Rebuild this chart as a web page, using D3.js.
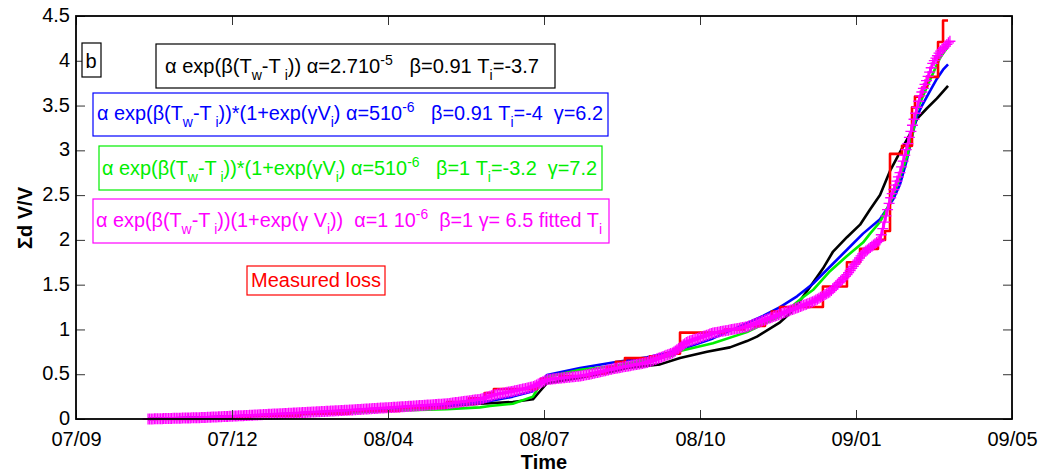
<!DOCTYPE html>
<html><head><meta charset="utf-8">
<script src="https://cdn.jsdelivr.net/npm/d3@7"></script>
<style>
body{margin:0;background:#fff}
svg{display:block}
text{font-family:"Liberation Sans",Arial,Helvetica,sans-serif}
</style>
</head><body>
<svg id="chart" width="1050" height="475"></svg>
<script>
// ---------- data ----------
// x: days since 2007-09-15 (datenum 733300); ticks every 100 days
const xTickDays = [0, 100, 200, 300, 400, 500, 600];
const xTickLabels = ["07/09", "07/12", "08/04", "08/07", "08/10", "09/01", "09/05"];
const yTicks = [0, 0.5, 1, 1.5, 2, 2.5, 3, 3.5, 4, 4.5];
const yTickLabels = ["0", "0.5", "1", "1.5", "2", "2.5", "3", "3.5", "4", "4.5"];

const blackDays = [46.2, 79.5, 111.5, 143.6, 175.6, 207.7, 237.8, 259, 280, 292.9, 297.4, 301.9, 323.1, 344.2, 353.2, 374.4, 387.2, 404.5, 419.2, 430.1, 436.5, 451.3, 457.7, 464.1, 472.4, 478.8, 485.3, 494.2, 502.6, 509, 515.4, 521.8, 528.2, 534.6, 539.1, 545.5, 551.9, 559];
const blackVals = [0, 0.015, 0.035, 0.06, 0.085, 0.115, 0.145, 0.17, 0.19, 0.22, 0.31, 0.40, 0.46, 0.53, 0.57, 0.61, 0.68, 0.75, 0.80, 0.87, 0.92, 1.08, 1.18, 1.32, 1.52, 1.68, 1.87, 2.03, 2.17, 2.34, 2.5, 2.77, 2.98, 3.18, 3.35, 3.47, 3.58, 3.72];

const blueDays = [46.2, 79.5, 111.5, 143.6, 175.6, 201.3, 237.8, 265.4, 280, 292.9, 297.4, 301.9, 323.1, 344.2, 366, 382.7, 391.7, 408.3, 430.1, 440.4, 451.3, 462.2, 472.4, 483.3, 494.2, 504.5, 515.4, 523.7, 528.2, 532.7, 536.5, 539.1, 542.3, 547.4, 551.9, 555.8, 559];
const blueVals = [0, 0.015, 0.035, 0.06, 0.085, 0.11, 0.15, 0.2, 0.25, 0.31, 0.40, 0.49, 0.57, 0.63, 0.69, 0.75, 0.80, 0.90, 1.07, 1.15, 1.25, 1.37, 1.51, 1.70, 1.89, 2.07, 2.23, 2.45, 2.62, 2.90, 3.20, 3.38, 3.50, 3.66, 3.80, 3.90, 3.96];

const greenDays = [46.2, 79.5, 111.5, 143.6, 175.6, 201.3, 237.8, 259, 265.4, 280, 292.9, 297.4, 301.9, 323.1, 344.2, 366, 382.7, 387.2, 408.3, 430.1, 451.3, 466, 472.4, 483.3, 494.2, 504.5, 509, 515.4, 521.8, 527, 532.7, 536.5, 539.1, 545.5, 549.4, 553.8, 559];
const greenVals = [0, 0.012, 0.03, 0.05, 0.07, 0.093, 0.11, 0.13, 0.145, 0.17, 0.25, 0.38, 0.47, 0.55, 0.59, 0.66, 0.71, 0.76, 0.845, 0.97, 1.15, 1.36, 1.44, 1.65, 1.82, 1.97, 2.07, 2.2, 2.41, 2.65, 2.93, 3.2, 3.45, 3.71, 3.86, 4.03, 4.16];

const magentaDays = [46.2, 79.5, 98.7, 143.6, 175.6, 207.7, 237.8, 259, 267.9, 280, 292.9, 297.4, 301.9, 323.1, 329.5, 344.2, 366, 382.7, 391.7, 408.3, 430.1, 451.3, 472.4, 483.3, 494.2, 504.5, 515.4, 521.8, 528.2, 532.7, 536.5, 541, 545.5, 549.4, 553.8, 560.3];
const magentaVals = [0, 0.015, 0.03, 0.07, 0.1, 0.135, 0.17, 0.22, 0.27, 0.31, 0.36, 0.40, 0.44, 0.48, 0.5, 0.56, 0.63, 0.74, 0.86, 0.96, 1.03, 1.17, 1.31, 1.42, 1.61, 1.85, 2.0, 2.45, 2.75, 3.04, 3.3, 3.6, 3.79, 3.98, 4.1, 4.22];

// measured loss (stepwise)
const redDays = [46.2, 79.5, 111.5, 143.6, 175.6, 207.7, 237.8, 252, 262, 267.9, 295.5, 298, 310.3, 329.5, 340, 346, 351.9, 367.9, 377.6, 387.2, 416, 428.8, 441.7, 446, 451.3, 478.8, 494.2, 502.6, 514.1, 518.6, 521.8, 529.5, 535.9, 537.8, 542.3, 545.5, 552.6, 555.8, 559];
const redVals = [0, 0.015, 0.035, 0.06, 0.09, 0.125, 0.19, 0.23, 0.29, 0.335, 0.40, 0.45, 0.48, 0.51, 0.58, 0.64, 0.68, 0.70, 0.73, 0.965, 1.0, 1.04, 1.12, 1.2, 1.25, 1.48, 1.75, 1.9, 2.0, 2.1, 2.96, 3.05, 3.48, 3.6, 3.7, 3.82, 4.21, 4.45, 4.45];

// legend / annotation texts: [text, kind]
const legendBlack = [["α exp(β(T",""],["w","sub"],["-T",""],[" i","sub"],[")) α=2.710",""],["-5","sup"],["   β=0.91 T",""],["i","sub"],["=-3.7",""]];
const legendBlue = [["α exp(β(T",""],["w","sub"],["-T",""],[" i","sub"],["))*(1+exp(γV",""],["i","sub"],[") α=510",""],["-6","sup"],["   β=0.91 T",""],["i","sub"],["=-4  γ=6.2",""]];
const legendGreen = [["α exp(β(T",""],["w","sub"],["-T",""],[" i","sub"],["))*(1+exp(γV",""],["i","sub"],[") α=510",""],["-6","sup"],["   β=1 T",""],["i","sub"],["=-3.2  γ=7.2",""]];
const legendMagenta = [["α exp(β(T",""],["w","sub"],["-T",""],[" i","sub"],["))(1+exp(γ V",""],["i","sub"],["))  α=1 10",""],["-6","sup"],["  β=1 γ= 6.5 fitted T",""],["i","sub"]];
const legendRed = [["Measured loss",""]];
const panelLabel = [["b",""]];
const xAxisTitle = "Time";
const yAxisTitle = "Σd V/V";

// ---------- drawing ----------
const svg = d3.select("#chart");
const L = 76, R = 1012, T = 16, B = 419;
const x = d3.scaleLinear().domain([0, 600]).range([L, R]);
const y = d3.scaleLinear().domain([0, 4.5]).range([B, T]);

const line = d3.line().x(d => x(d[0])).y(d => y(d[1]));
const zip = (a, b) => a.map((v, i) => [v, b[i]]);

const plot = svg.append("g");

function drawLine(days, vals, color, curve) {
  const l = curve ? d3.line().x(d => x(d[0])).y(d => y(d[1])).curve(curve) : line;
  return plot.append("path").datum(zip(days, vals))
    .attr("d", l).attr("fill", "none").attr("stroke", color)
    .attr("stroke-width", 2.6).attr("stroke-linejoin", "round");
}

drawLine(blackDays, blackVals, "#000000");
drawLine(blueDays, blueVals, "#0000ff");
drawLine(greenDays, greenVals, "#00ee00");
drawLine(redDays, redVals, "#ff0000", d3.curveStepAfter);
const magPath = drawLine(magentaDays, magentaVals, "#ff00ff");

// '+' markers along the magenta line, one per day of the x axis
(function () {
  const node = magPath.node();
  const len = node.getTotalLength();
  const step = x(1) - x(0);
  let nextX = x(magentaDays[0]);
  const pts = [];
  for (let s = 0; s <= len; s += 0.2) {
    const p = node.getPointAtLength(s);
    if (p.x >= nextX - 0.01) { pts.push([p.x, p.y]); nextX += step; }
  }
  const h = 5.5;
  plot.append("g").selectAll("path").data(pts).join("path")
    .attr("d", d => `M${d[0]-h},${d[1]}H${d[0]+h}M${d[0]},${d[1]-h}V${d[1]+h}`)
    .attr("stroke", "#ff00ff").attr("stroke-width", 1.3).attr("fill", "none");
})();

// axes (inward ticks, MATLAB style)
const fmtX = d => xTickLabels[xTickDays.indexOf(d)];
const fmtY = d => yTickLabels[yTicks.indexOf(d)];
const axB = svg.append("g").attr("transform", `translate(0,${B})`)
  .call(d3.axisBottom(x).tickValues(xTickDays).tickFormat(fmtX).tickSizeInner(-9).tickSizeOuter(0).tickPadding(13));
const axT = svg.append("g").attr("transform", `translate(0,${T})`)
  .call(d3.axisTop(x).tickValues(xTickDays).tickFormat("").tickSizeInner(-9).tickSizeOuter(0));
const axL = svg.append("g").attr("transform", `translate(${L},0)`)
  .call(d3.axisLeft(y).tickValues(yTicks).tickFormat(fmtY).tickSizeInner(-9).tickSizeOuter(0).tickPadding(6));
const axR = svg.append("g").attr("transform", `translate(${R},0)`)
  .call(d3.axisRight(y).tickValues(yTicks).tickFormat("").tickSizeInner(-9).tickSizeOuter(0));
[axB, axT, axL, axR].forEach(a => {
  a.select(".domain").remove();
  a.selectAll(".tick line").attr("stroke", "#333").attr("stroke-width", 1);
  a.selectAll("text").attr("font-size", 20).attr("fill", "#000")
    .attr("font-family", "Liberation Sans, Arial, sans-serif");
});
axL.selectAll("text").attr("dy", "0.28em");
svg.append("rect").attr("x", L).attr("y", T).attr("width", R - L).attr("height", B - T)
  .attr("fill", "none").attr("stroke", "#000").attr("stroke-width", 1.8);

svg.append("text").attr("x", 544).attr("y", 469).attr("text-anchor", "middle")
  .attr("font-size", 20).attr("font-weight", "bold").text(xAxisTitle);
svg.append("text").attr("transform", "translate(32,218) rotate(-90)").attr("text-anchor", "middle")
  .attr("font-size", 20).attr("font-weight", "bold").text(yAxisTitle);

// annotation boxes
function annot(segs, color, box, tx, ty, width) {
  svg.append("rect").attr("x", box[0]).attr("y", box[1]).attr("width", box[2] - box[0])
    .attr("height", box[3] - box[1]).attr("fill", "#fff").attr("stroke", color).attr("stroke-width", 1.2);
  const t = svg.append("text").attr("x", tx).attr("y", ty).attr("fill", color)
    .attr("font-size", 20).style("white-space", "pre");
  let cur = 0;
  segs.forEach(([s, k]) => {
    const off = k === "sub" ? 7 : k === "sup" ? -8 : 0;
    t.append("tspan").attr("dy", off - cur).attr("font-size", k ? 14 : 20).text(s);
    cur = off;
  });
  if (width) t.attr("textLength", width).attr("lengthAdjust", "spacingAndGlyphs");
}
annot(panelLabel, "#000", [82, 43, 101, 77], 85.5, 68, 0);
annot(legendBlack, "#000", [156, 44, 555, 88], 165, 73, 374);
annot(legendBlue, "#0000ff", [93, 93, 608, 136], 97, 120, 506);
annot(legendGreen, "#00ee00", [99, 146, 602, 190], 102, 175, 495);
annot(legendMagenta, "#ff00ff", [93, 199, 609, 243], 96, 227, 506);
annot(legendRed, "#ff0000", [247, 266, 385, 295], 251, 287, 130);
</script>
</body></html>
